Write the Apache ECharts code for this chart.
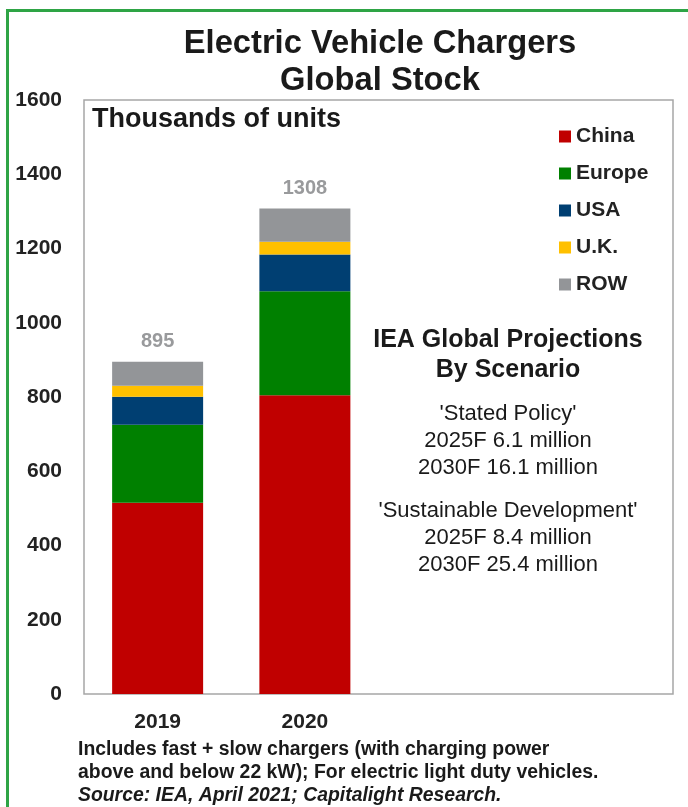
<!DOCTYPE html>
<html><head><meta charset="utf-8">
<script src="https://cdn.jsdelivr.net/npm/echarts@6/dist/echarts.min.js"></script>
<style>html,body{margin:0;padding:0;background:#fff}#c{width:688px;height:807px}</style>
</head><body><div id="c"></div>
<script>
const categories = ['2019', '2020', '', ''];
const china = [515, 805];
const europe = [210, 280];
const usa = [76, 99];
const uk = [29, 34];
const row = [65, 90];
const totals = [895, 1308];
const seriesNames = ['China', 'Europe', 'USA', 'U.K.', 'ROW'];
const seriesColors = ['#c00000', '#008000', '#003f72', '#ffc000', '#939598'];
const seriesData = [china, europe, usa, uk, row];
const yTicks = [0, 200, 400, 600, 800, 1000, 1200, 1400, 1600];

const chart = echarts.init(document.getElementById('c'));
const FF = '"Liberation Sans", Arial, sans-serif';
const series = seriesNames.map((n, i) => ({
  name: n, type: 'bar', stack: 's',
  data: seriesData[i],
  barWidth: 91,
  itemStyle: { color: seriesColors[i] },
  label: i === seriesNames.length - 1 ? {
    show: true, position: 'top', distance: 10,
    formatter: p => String(totals[p.dataIndex]),
    color: '#999a9c', fontWeight: 'bold', fontSize: 20, fontFamily: FF
  } : { show: false }
}));

chart.setOption({
  animation: false,
  textStyle: { fontFamily: FF },
  grid: { left: 84, top: 100, right: 15, bottom: 113, show: true, borderColor: '#a6a6a6', borderWidth: 1.5 },
  xAxis: {
    type: 'category', data: categories,
    axisLine: { show: false }, axisTick: { show: false },
    axisLabel: { color: '#222', fontWeight: 'bold', fontSize: 21, margin: 18, interval: 0 }
  },
  yAxis: {
    type: 'value', min: yTicks[0], max: yTicks[yTicks.length - 1], interval: 200,
    splitLine: { show: false }, axisLine: { show: false }, axisTick: { show: false },
    axisLabel: { color: '#222', fontWeight: 'bold', fontSize: 21, margin: 22, formatter: v => String(v) }
  },
  legend: {
    orient: 'vertical', left: 559, top: 126, padding: 0,
    itemWidth: 12, itemHeight: 12, itemGap: 16,
    icon: 'rect',
    textStyle: { color: '#222', fontWeight: 'bold', fontSize: 21, fontFamily: FF, lineHeight: 21 },
    data: seriesNames
  },
  graphic: [
    { type: 'rect', left: 5, top: 8, shape: { width: 720, height: 840 }, style: { fill: 'none', stroke: '#2ea445', lineWidth: 3 } },
    { type: 'text', x: 380, y: 25, style: { text: 'Electric Vehicle Chargers\nGlobal Stock', textAlign: 'center', font: 'bold 32.7px ' + FF, lineHeight: 37, fill: '#1a1a1a' } },
    { type: 'text', x: 92, y: 106, style: { text: 'Thousands of units', font: 'bold 27px ' + FF, fill: '#1a1a1a' } },
    { type: 'text', x: 508, y: 325, style: { text: 'IEA Global Projections\nBy Scenario', textAlign: 'center', font: 'bold 25px ' + FF, lineHeight: 30, fill: '#1a1a1a' } },
    { type: 'text', x: 508, y: 400, style: { text: "'Stated Policy'\n2025F 6.1 million\n2030F 16.1 million", textAlign: 'center', font: '22px ' + FF, lineHeight: 27, fill: '#1a1a1a' } },
    { type: 'text', x: 508, y: 497, style: { text: "'Sustainable Development'\n2025F 8.4 million\n2030F 25.4 million", textAlign: 'center', font: '22px ' + FF, lineHeight: 27, fill: '#1a1a1a' } },
    { type: 'text', x: 78, y: 738, style: { text: 'Includes fast + slow chargers (with charging power\nabove and below 22 kW); For electric light duty vehicles.', font: 'bold 19.4px ' + FF, lineHeight: 23, fill: '#1a1a1a' } },
    { type: 'text', x: 78, y: 784, style: { text: 'Source: IEA, April 2021; Capitalight Research.', font: 'italic bold 19.4px ' + FF, lineHeight: 23, fill: '#1a1a1a' } }
  ],
  series: series
});
</script></body></html>
